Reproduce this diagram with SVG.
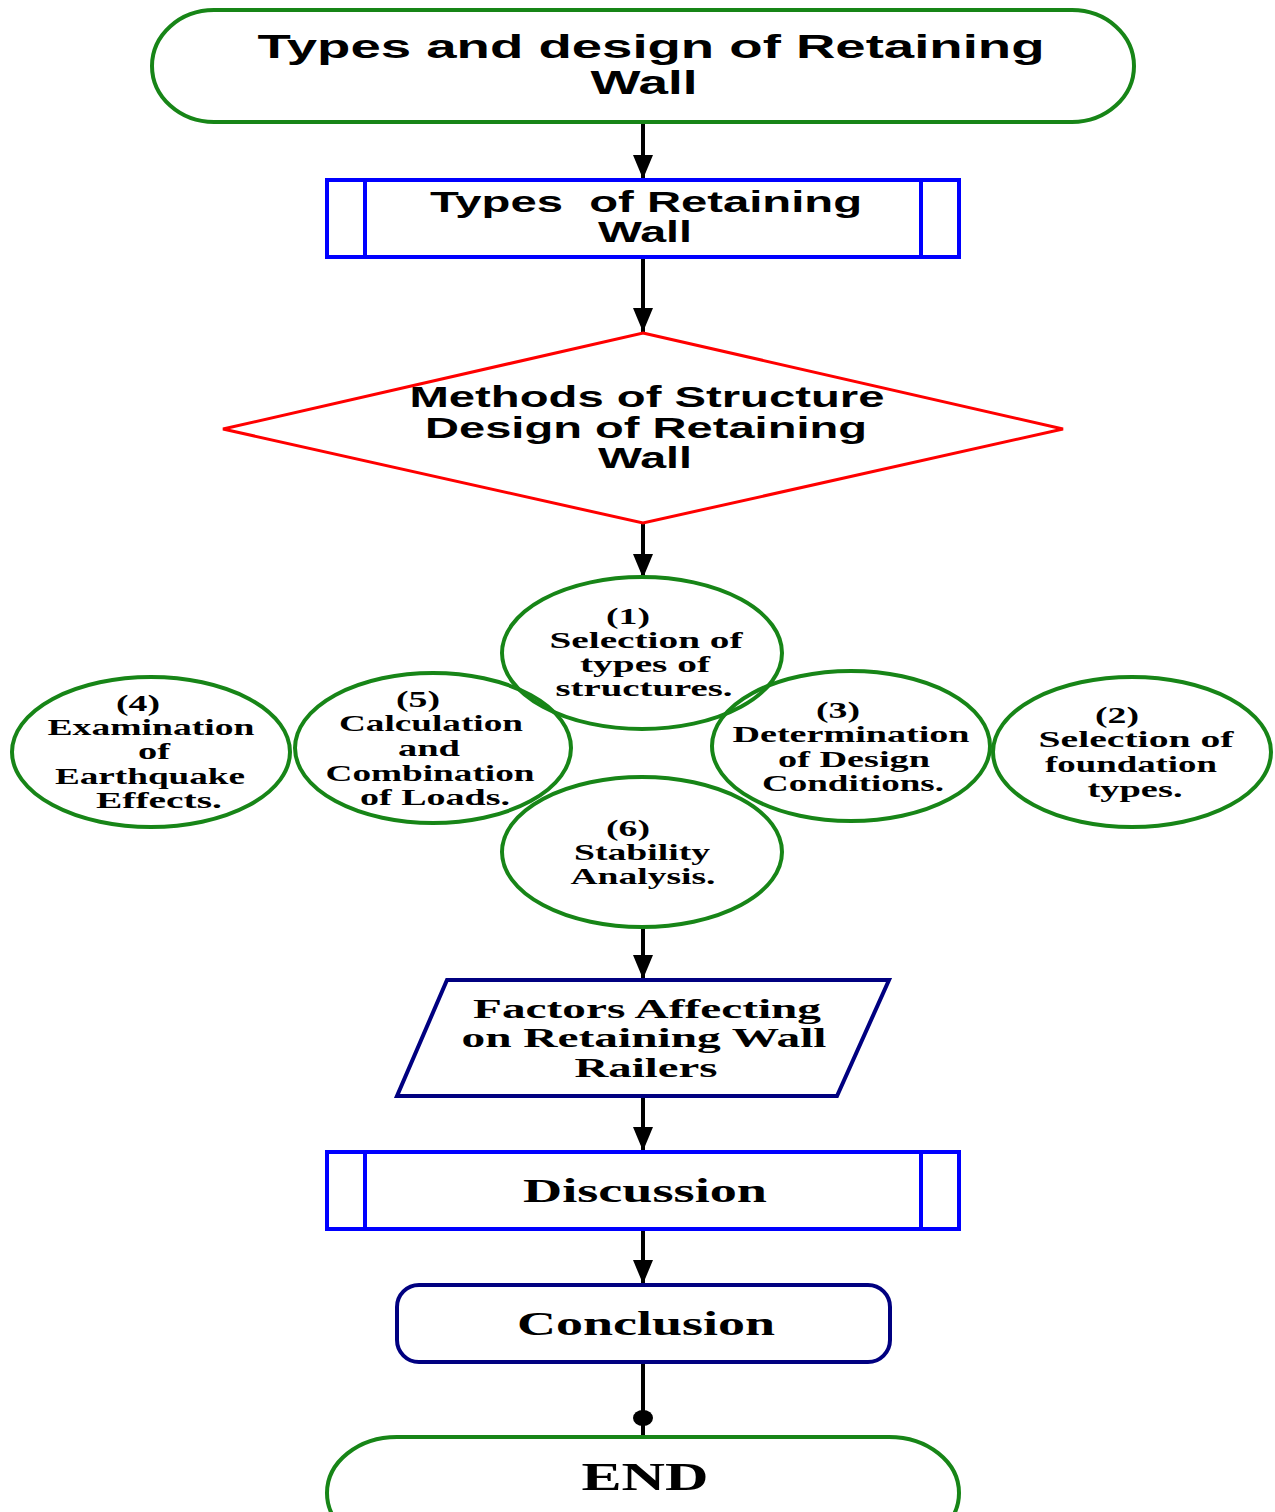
<svg xmlns="http://www.w3.org/2000/svg" width="1275" height="1512" viewBox="0 0 1275 1512">
<style>
.sans{font-family:"Liberation Sans",Arial,sans-serif;font-weight:bold;fill:#000;text-anchor:middle}
.serif{font-family:"Liberation Serif","Times New Roman",serif;font-weight:bold;fill:#000;text-anchor:middle}
.green{fill:none;stroke:#178517;stroke-width:4}
.blue{fill:none;stroke:#0000ff;stroke-width:4}
.navy{fill:none;stroke:#000080;stroke-width:4}
.red{fill:none;stroke:#ff0000;stroke-width:3}
.conn{stroke:#000;stroke-width:4;fill:none}
.t25{font-size:24px}
</style>
<defs>
<marker id="arr" markerWidth="6" markerHeight="5" refX="6" refY="2.5" orient="auto" markerUnits="strokeWidth">
<path d="M0,0 L6,2.5 L0,5 Z" fill="#000"/>
</marker>
</defs>

<g id="connectors">
<line class="conn" x1="643" y1="122" x2="643" y2="179" marker-end="url(#arr)"/>
<line class="conn" x1="643" y1="257" x2="643" y2="332" marker-end="url(#arr)"/>
<line class="conn" x1="643" y1="523" x2="643" y2="578" marker-end="url(#arr)"/>
<line class="conn" x1="643" y1="928" x2="643" y2="979" marker-end="url(#arr)"/>
<line class="conn" x1="643" y1="1096" x2="643" y2="1151" marker-end="url(#arr)"/>
<line class="conn" x1="643" y1="1229" x2="643" y2="1284" marker-end="url(#arr)"/>
<line class="conn" x1="643" y1="1362" x2="643" y2="1437"/>
<ellipse cx="643" cy="1418" rx="10" ry="8" fill="#000"/>
</g>

<g id="start">
<rect class="green" x="152" y="10" width="982" height="112" rx="62" ry="56"/>
<text class="sans" x="651" y="58" font-size="33" textLength="787" lengthAdjust="spacingAndGlyphs">Types and design of Retaining</text>
<text class="sans" x="644" y="94" font-size="33" textLength="107" lengthAdjust="spacingAndGlyphs">Wall</text>
</g>

<g id="types">
<rect class="blue" x="327" y="180" width="632" height="77"/>
<line class="blue" x1="365" y1="180" x2="365" y2="257"/>
<line class="blue" x1="921" y1="180" x2="921" y2="257"/>
<text class="sans" x="646" y="212" font-size="29" textLength="432" lengthAdjust="spacingAndGlyphs" xml:space="preserve">Types  of Retaining</text>
<text class="sans" x="645" y="242" font-size="29" textLength="94" lengthAdjust="spacingAndGlyphs">Wall</text>
</g>

<g id="methods">
<polygon class="red" points="643,333 1063,429 643,523 223,429"/>
<text class="sans" x="647" y="407" font-size="29" textLength="475" lengthAdjust="spacingAndGlyphs">Methods of Structure</text>
<text class="sans" x="646" y="438" font-size="29" textLength="442" lengthAdjust="spacingAndGlyphs">Design of Retaining</text>
<text class="sans" x="645" y="468" font-size="29" textLength="94" lengthAdjust="spacingAndGlyphs">Wall</text>
</g>

<g id="step1">
<ellipse class="green" cx="642" cy="653" rx="140" ry="76"/>
<text class="serif t25" x="628" y="624" textLength="44" lengthAdjust="spacingAndGlyphs">(1)</text>
<text class="serif t25" x="646" y="648" textLength="193" lengthAdjust="spacingAndGlyphs">Selection of</text>
<text class="serif t25" x="645" y="672" textLength="130" lengthAdjust="spacingAndGlyphs">types of</text>
<text class="serif t25" x="644" y="696" textLength="177" lengthAdjust="spacingAndGlyphs">structures.</text>
</g>

<g id="step4">
<ellipse class="green" cx="151" cy="752" rx="139" ry="75"/>
<text class="serif t25" x="138" y="711" textLength="44" lengthAdjust="spacingAndGlyphs">(4)</text>
<text class="serif t25" x="151" y="735" textLength="207" lengthAdjust="spacingAndGlyphs">Examination</text>
<text class="serif t25" x="154" y="759" textLength="32" lengthAdjust="spacingAndGlyphs">of</text>
<text class="serif t25" x="150" y="784" textLength="190" lengthAdjust="spacingAndGlyphs">Earthquake</text>
<text class="serif t25" x="159" y="808" textLength="126" lengthAdjust="spacingAndGlyphs">Effects.</text>
</g>

<g id="step5">
<ellipse class="green" cx="433" cy="748" rx="138" ry="75"/>
<text class="serif t25" x="418" y="707" textLength="44" lengthAdjust="spacingAndGlyphs">(5)</text>
<text class="serif t25" x="431" y="731" textLength="184" lengthAdjust="spacingAndGlyphs">Calculation</text>
<text class="serif t25" x="429" y="756" textLength="62" lengthAdjust="spacingAndGlyphs">and</text>
<text class="serif t25" x="430" y="781" textLength="209" lengthAdjust="spacingAndGlyphs">Combination</text>
<text class="serif t25" x="435" y="805" textLength="150" lengthAdjust="spacingAndGlyphs">of Loads.</text>
</g>

<g id="step3">
<ellipse class="green" cx="851" cy="746" rx="139" ry="75"/>
<text class="serif t25" x="838" y="718" textLength="44" lengthAdjust="spacingAndGlyphs">(3)</text>
<text class="serif t25" x="851" y="742" textLength="237" lengthAdjust="spacingAndGlyphs">Determination</text>
<text class="serif t25" x="854" y="767" textLength="152" lengthAdjust="spacingAndGlyphs">of Design</text>
<text class="serif t25" x="853" y="791" textLength="182" lengthAdjust="spacingAndGlyphs">Conditions.</text>
</g>

<g id="step2">
<ellipse class="green" cx="1132" cy="752" rx="139" ry="75"/>
<text class="serif t25" x="1117" y="723" textLength="44" lengthAdjust="spacingAndGlyphs">(2)</text>
<text class="serif t25" x="1136" y="747" textLength="195" lengthAdjust="spacingAndGlyphs">Selection of</text>
<text class="serif t25" x="1131" y="772" textLength="172" lengthAdjust="spacingAndGlyphs">foundation</text>
<text class="serif t25" x="1135" y="797" textLength="95" lengthAdjust="spacingAndGlyphs">types.</text>
</g>

<g id="step6">
<ellipse class="green" cx="642" cy="852" rx="140" ry="75"/>
<text class="serif t25" x="628" y="836" textLength="44" lengthAdjust="spacingAndGlyphs">(6)</text>
<text class="serif t25" x="642" y="860" textLength="136" lengthAdjust="spacingAndGlyphs">Stability</text>
<text class="serif t25" x="643" y="884" textLength="145" lengthAdjust="spacingAndGlyphs">Analysis.</text>
</g>

<g id="factors">
<polygon class="navy" points="447,980 889,980 837,1096 397,1096"/>
<text class="serif" font-size="28" x="647" y="1018" textLength="348" lengthAdjust="spacingAndGlyphs">Factors Affecting</text>
<text class="serif" font-size="28" x="644" y="1047" textLength="365" lengthAdjust="spacingAndGlyphs">on Retaining Wall</text>
<text class="serif" font-size="28" x="646" y="1077" textLength="143" lengthAdjust="spacingAndGlyphs">Railers</text>
</g>

<g id="discussion">
<rect class="blue" x="327" y="1152" width="632" height="77"/>
<line class="blue" x1="365" y1="1152" x2="365" y2="1229"/>
<line class="blue" x1="921" y1="1152" x2="921" y2="1229"/>
<text class="serif" font-size="33" x="645" y="1202" textLength="244" lengthAdjust="spacingAndGlyphs">Discussion</text>
</g>

<g id="conclusion">
<rect class="navy" x="397" y="1285" width="493" height="77" rx="22" ry="22"/>
<text class="serif" font-size="33" x="646" y="1335" textLength="258" lengthAdjust="spacingAndGlyphs">Conclusion</text>
</g>

<g id="end">
<rect class="green" x="327" y="1437" width="632" height="112" rx="70" ry="56"/>
<text class="serif" font-size="40" x="645" y="1490" textLength="127" lengthAdjust="spacingAndGlyphs">END</text>
</g>
</svg>
